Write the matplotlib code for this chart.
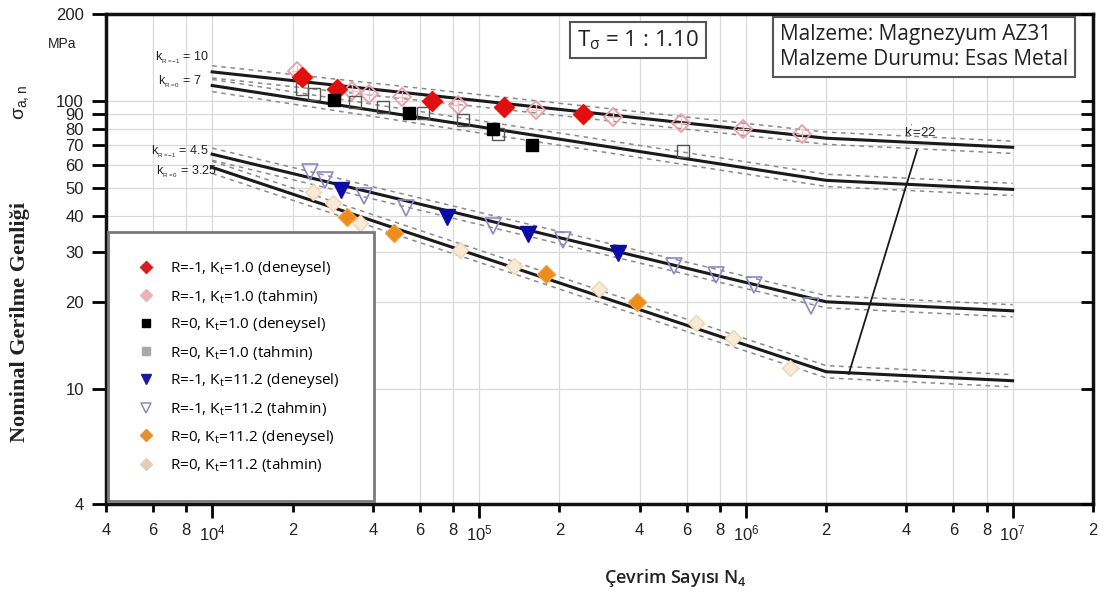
import matplotlib
matplotlib.use("Agg")
import matplotlib.pyplot as plt
from matplotlib.lines import Line2D

# ---------------- data ----------------
N_curve = [1e4, 2e6, 1e7]
S_r1_kt1 = [126, 74.2, 69.0]
S_r0_kt1 = [113, 53.0, 49.3]
S_r1_kt11 = [65.3, 20.1, 18.7]
S_r0_kt11 = [58.8, 11.5, 10.7]
band_factor = 1.05

red_N = [2.17e4, 2.94e4, 6.67e4, 1.24e5, 2.46e5]
red_S = [121, 110, 100, 95, 90]

pink_N = [2.08e4, 3.35e4, 3.88e4, 5.16e4, 8.37e4, 1.63e5, 3.17e5, 5.7e5, 9.74e5, 1.62e6]
pink_S = [127, 108, 106, 103, 97, 93, 88, 84, 80, 77]

black_N = [2.85e4, 5.45e4, 1.13e5, 1.58e5]
black_S = [100.5, 91, 80, 70]

grey_N = [2.18e4, 2.41e4, 3.44e4, 4.38e4, 6.19e4, 8.74e4, 1.18e5, 5.8e5]
grey_S = [110, 106, 99, 95, 91, 86, 77, 67]

blue_N = [3.05e4, 7.6e4, 1.52e5, 3.31e5]
blue_S = [49, 39.5, 34.6, 29.6]

bluet_N = [2.33e4, 2.65e4, 3.72e4, 5.34e4, 1.13e5, 2.07e5, 5.37e5, 7.71e5, 1.07e6, 1.75e6]
bluet_S = [56.5, 53, 46.6, 42.4, 36.7, 32.8, 26.8, 24.8, 22.9, 19.5]

orange_N = [3.2e4, 4.79e4, 1.78e5, 3.91e5]
orange_S = [39.7, 34.7, 25, 20.1]

peach_N = [2.39e4, 2.84e4, 3.59e4, 8.52e4, 1.35e5, 2.81e5, 6.49e5, 8.93e5, 1.47e6]
peach_S = [48.1, 44.1, 37.6, 30.3, 26.8, 22.3, 17, 15.1, 11.8]

kprime_N = [2.43e6, 4.38e6]
kprime_S = [11.3, 67.4]

y_ticks = [4, 10, 20, 30, 40, 50, 60, 70, 80, 90, 100, 200]
x_major = [1e4, 1e5, 1e6, 1e7]
x_major_labels = ["$10^4$", "$10^5$", "$10^6$", "$10^7$"]
x_minor = [4e3, 6e3, 8e3, 2e4, 4e4, 6e4, 8e4, 2e5, 4e5, 6e5, 8e5,
           2e6, 4e6, 6e6, 8e6, 2e7]
x_minor_labels = ["4", "6", "8", "2", "4", "6", "8", "2", "4", "6", "8",
                  "2", "4", "6", "8", "2"]

legend_labels = [
    "R=-1, K$_t$=1.0 (deneysel)",
    "R=-1, K$_t$=1.0 (tahmin)",
    "R=0, K$_t$=1.0 (deneysel)",
    "R=0, K$_t$=1.0 (tahmin)",
    "R=-1, K$_t$=11.2 (deneysel)",
    "R=-1, K$_t$=11.2 (tahmin)",
    "R=0, K$_t$=11.2 (deneysel)",
    "R=0, K$_t$=11.2 (tahmin)",
]

# ---------------- figure ----------------
plt.rcParams['font.family'] = ['Liberation Sans', 'DejaVu Sans']
plt.rcParams['mathtext.default'] = 'regular'

W, H = 1107, 603
fig = plt.figure(figsize=(W / 100, H / 100), dpi=100)
ax = fig.add_axes([106 / W, 1 - 504 / H, (1093 - 106) / W, (504 - 14) / H])


def fp(x, y):
    return (x / W, 1 - y / H)


ax.set_xscale('log')
ax.set_yscale('log')
ax.set_xlim(4e3, 2e7)
ax.set_ylim(4, 200)

# grid
for xv in x_major + x_minor:
    ax.axvline(xv, color='#d9d9d9', lw=0.9, zorder=0)
for yv in y_ticks:
    ax.axhline(yv, color='#d9d9d9', lw=0.9, zorder=0)

# curves with scatter bands
for S in (S_r1_kt1, S_r0_kt1, S_r1_kt11, S_r0_kt11):
    ax.plot(N_curve, S, color='#1a1a1a', lw=2.2, zorder=3)
    ax.plot(N_curve, [s * band_factor for s in S], color='#8a8a8a', lw=1.1,
            ls=(0, (3, 3)), zorder=2)
    ax.plot(N_curve, [s / band_factor for s in S], color='#8a8a8a', lw=1.1,
            ls=(0, (3, 3)), zorder=2)

ax.plot(kprime_N, kprime_S, color='#1a1a1a', lw=1.3, zorder=3)

# data points
ax.plot(pink_N, pink_S, ls='none', marker='D', ms=9.5, mfc='none', mec='#e8a0a6', mew=1.3, zorder=4)
ax.plot(pink_N, pink_S, ls='none', marker='+', ms=9, mec='#f0c0c4', mew=1.0, zorder=4)
ax.plot(red_N, red_S, ls='none', marker='D', ms=10.5, mfc='#e01010', mec='#e01010', zorder=5)
ax.plot(grey_N, grey_S, ls='none', marker='s', ms=9, mfc='none', mec='#555555', mew=1.0, zorder=4)
ax.plot(black_N, black_S, ls='none', marker='s', ms=8.5, mfc='#000000', mec='#000000', zorder=5)
ax.plot(bluet_N, bluet_S, ls='none', marker='v', ms=11, mfc='none', mec='#8a8ac8', mew=1.2, zorder=4)
ax.plot(blue_N, blue_S, ls='none', marker='v', ms=11, mfc='#0b0ba8', mec='#0b0ba8', zorder=5)
ax.plot(peach_N, peach_S, ls='none', marker='D', ms=8.5, mfc='#f8ead8', mec='#f0d4b0', mew=1.0, zorder=4)
ax.plot(orange_N, orange_S, ls='none', marker='D', ms=9, mfc='#ec8c1c', mec='#f0a040', zorder=5)

# axes style
for sp in ax.spines.values():
    sp.set_linewidth(2.5)
    sp.set_color('#111111')

ax.set_yticks(y_ticks)
ax.set_yticklabels([str(v) for v in y_ticks])
ax.yaxis.set_minor_locator(matplotlib.ticker.NullLocator())
ax.tick_params(axis='y', which='major', direction='out', length=10, width=2,
               pad=6, labelsize=12, labelcolor='#222222')

ax.set_xticks(x_major)
ax.set_xticklabels(x_major_labels)
ax.set_xticks(x_minor, minor=True)
ax.set_xticklabels(x_minor_labels, minor=True)
ax.tick_params(axis='x', which='major', direction='out', length=10, width=2,
               pad=4, labelsize=12, labelcolor='#222222')
ax.tick_params(axis='x', which='minor', direction='out', length=6, width=2,
               pad=8, labelsize=12, labelcolor='#222222')

# right-hand inward ticks
ax2 = ax.twinx()
ax2.set_yscale('log')
ax2.set_ylim(4, 200)
ax2.set_yticks(y_ticks)
ax2.yaxis.set_minor_locator(matplotlib.ticker.NullLocator())
ax2.tick_params(axis='y', which='major', direction='in', length=9, width=2,
                labelright=False)
for sp in ax2.spines.values():
    sp.set_visible(False)

# legend
handles = [
    Line2D([], [], ls='none', marker='D', ms=6, mfc='#d42020', mec='#d42020'),
    Line2D([], [], ls='none', marker='D', ms=6, mfc='#e8b4b8', mec='#e8b4b8'),
    Line2D([], [], ls='none', marker='s', ms=5.5, mfc='#000000', mec='#000000'),
    Line2D([], [], ls='none', marker='s', ms=5.5, mfc='#a8a8a8', mec='#a8a8a8'),
    Line2D([], [], ls='none', marker='v', ms=6.5, mfc='#1a1aa0', mec='#1a1aa0'),
    Line2D([], [], ls='none', marker='v', ms=6.5, mfc='none', mec='#8a8ab8', mew=1.1),
    Line2D([], [], ls='none', marker='D', ms=6, mfc='#e09030', mec='#e09030'),
    Line2D([], [], ls='none', marker='D', ms=6, mfc='#e2cdb8', mec='#e2cdb8'),
]
leg = ax.legend(handles, legend_labels, loc='lower left',
                bbox_to_anchor=(108 / W, 1 - 501 / H, (374 - 108) / W, (501 - 232) / H),
                bbox_transform=fig.transFigure, mode='expand', borderaxespad=0,
                prop={'family': 'Open Sans', 'size': 11}, labelspacing=0.63,
                borderpad=1.75, handlelength=1.5, handletextpad=0.8,
                fancybox=False, framealpha=1, edgecolor='#7a7a7a')
leg.get_frame().set_linewidth(2)
leg.set_zorder(10)

# annotations
kfs = 9
fig.text(*fp(209, 58), "k$_{_{R=-1}}$ = 10", fontsize=kfs, ha='right', va='center', color='#222')
fig.text(*fp(201, 82), "k$_{_{R=0}}$ = 7", fontsize=kfs, ha='right', va='center', color='#222')
fig.text(*fp(209, 152), "k$_{_{R=-1}}$ = 4.5", fontsize=kfs, ha='right', va='center', color='#222')
fig.text(*fp(217, 172), "k$_{_{R=0}}$ = 3.25", fontsize=kfs, ha='right', va='center', color='#222')
fig.text(*fp(920, 132), "k$^{'}$=22", fontsize=9.5, ha='center', va='center', color='#222')

fig.text(*fp(577, 40), "T$_{\\sigma}$ = 1 : 1.10", fontsize=16, family='Open Sans',
         ha='left', va='center', color='#222',
         bbox=dict(boxstyle='square,pad=0.3', fc='white', ec='#555555', lw=1.5))
fig.text(*fp(780, 47), "Malzeme: Magnezyum AZ31\nMalzeme Durumu: Esas Metal",
         fontsize=15, family='Open Sans', ha='left', va='center', linespacing=1.2,
         color='#222',
         bbox=dict(boxstyle='square,pad=0.35', fc='white', ec='#555555', lw=1.5))

fig.text(*fp(62, 44), "MPa", fontsize=10, ha='center', va='center', color='#222')
fig.text(*fp(22, 102), "$\\sigma_{a,n}$", fontsize=14, rotation=90, ha='center', va='center', color='#222')
fig.text(*fp(20, 322), "Nominal Gerilme Genliği", fontsize=16, rotation=90,
         family='Liberation Serif', weight='bold', ha='center', va='center', color='#222')
fig.text(*fp(675, 578), "Çevrim Sayısı N$_4$", fontsize=13, family='Open Sans',
         weight='semibold', ha='center', va='center', color='#222')

fig.savefig("out.png", dpi=100, facecolor='white')
